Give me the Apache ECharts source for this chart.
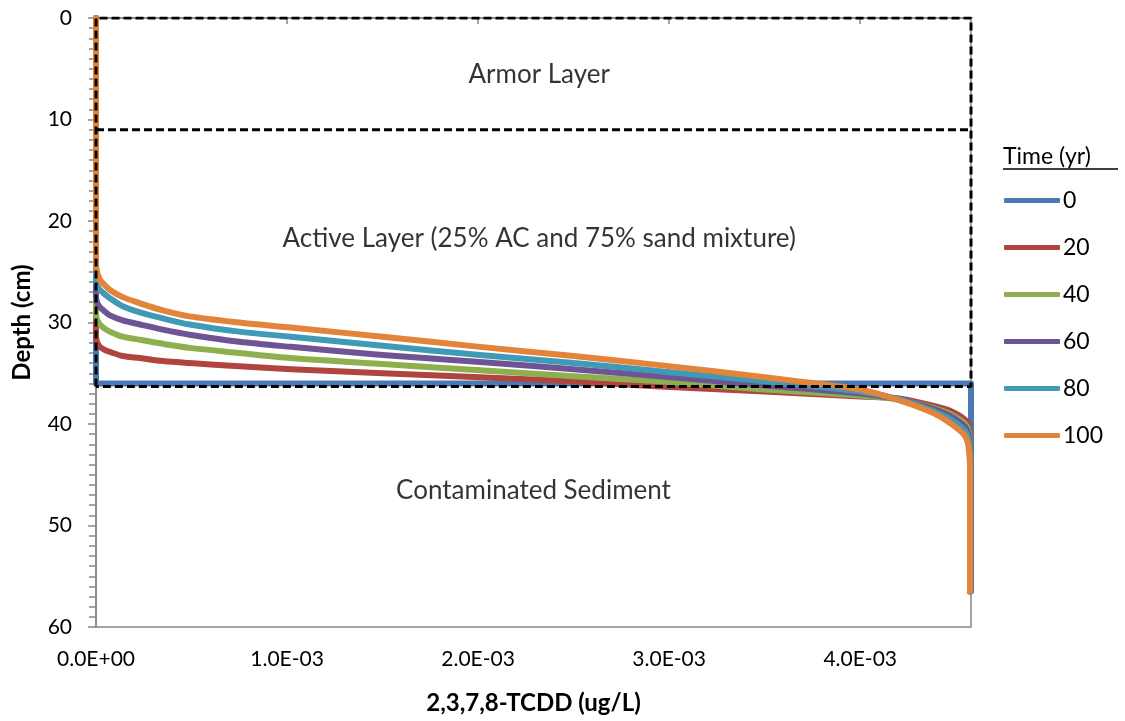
<!DOCTYPE html>
<html>
<head>
<meta charset="utf-8">
<script src="https://cdn.jsdelivr.net/npm/echarts@6/dist/echarts.min.js"></script>
<style>html,body{margin:0;padding:0;background:#fff}#c{width:1125px;height:721px}</style>
</head>
<body>
<div id="c"></div>
<script>
// ---- data (x values in units of 1e-3 ug/L) ----
const seriesNames = ['0', '20', '40', '60', '80', '100'];
const xCurve = [0, 0, 0.003, 0.01, 0.021, 0.045, 0.073, 0.14, 0.23, 0.35, 0.49, 0.75, 1.02, 1.5, 2.01, 2.5, 2.95, 3.5, 4.0, 4.21, 4.38, 4.47, 4.55, 4.57, 4.575, 4.575];
const depth20  = [0, 31.3, 31.8, 32.1, 32.4, 32.7, 32.9, 33.3, 33.5, 33.8, 34.0, 34.3, 34.6, 35.0, 35.4, 35.8, 36.3, 36.8, 37.3, 37.5, 38.2, 38.7, 39.6, 40.4, 43.0, 56.5];
const depth40  = [0, 29.0, 29.6, 29.9, 30.2, 30.6, 30.9, 31.4, 31.7, 32.1, 32.5, 33.0, 33.5, 34.1, 34.7, 35.3, 35.8, 36.6, 37.2, 37.6, 38.4, 39.0, 40.0, 41.0, 43.5, 56.5];
const depth60  = [0, 27.3, 27.9, 28.2, 28.5, 28.9, 29.3, 29.8, 30.2, 30.7, 31.2, 31.9, 32.4, 33.2, 33.9, 34.6, 35.3, 36.2, 37.0, 37.6, 38.5, 39.2, 40.3, 41.4, 44.0, 56.5];
const depth80  = [0, 25.5, 26.2, 26.5, 26.8, 27.2, 27.6, 28.4, 29.0, 29.6, 30.2, 30.9, 31.4, 32.3, 33.2, 34.0, 34.8, 35.8, 36.8, 37.6, 38.7, 39.5, 40.7, 41.9, 44.5, 56.5];
const depth100 = [0, 24.0, 24.8, 25.3, 25.8, 26.3, 26.8, 27.5, 28.1, 28.8, 29.4, 30.0, 30.5, 31.4, 32.4, 33.3, 34.2, 35.4, 36.6, 37.7, 38.9, 39.9, 41.2, 42.6, 45.0, 56.5];
const xInitial = [0, 0, 4.58, 4.58];
const depthInitial = [0, 36.0, 36.0, 56.5];
const boxX = [0, 0, 4.58, 4.58, 0];
const boxDepth = [36.3, 0, 0, 36.3, 36.3];
const armorX = [0, 4.58];
const armorDepth = [11, 11];
const layerLabels = ['Armor Layer', 'Active Layer (25% AC and 75% sand mixture)', 'Contaminated Sediment'];
const layerLabelX = [2.32, 2.32, 2.29];
const layerLabelDepth = [5.6, 21.7, 46.6];
const xTicks = [0, 1, 2, 3, 4];
const xMax = 4.58;
const colors = ['#4A78B5', '#B0443F', '#8EAF4E', '#6E5494', '#3E9AB5', '#E2843A'];
const SCALE = 1e-3;

const pts = (xs, ds) => xs.map((x, i) => [x * SCALE, ds[i]]);
const curveDepths = [depth20, depth40, depth60, depth80, depth100];

const font = 'Lato, "Open Sans", sans-serif';
function fmtExp(v) {
  let s = Number(v).toExponential(1).toUpperCase();
  return s.replace(/E([+-])(\d)$/, 'E$10$2');
}

const series = [];
series.push({
  name: seriesNames[0], type: 'line', data: pts(xInitial, depthInitial), showSymbol: false, symbol: 'none',
  lineStyle: { width: 6, color: colors[0], cap: 'round', join: 'round' }, itemStyle: { color: colors[0] }, z: 2
});
curveDepths.forEach((d, i) => {
  series.push({
    name: seriesNames[i + 1], type: 'line', data: pts(xCurve, d), showSymbol: false, symbol: 'none', smooth: 0.3,
    lineStyle: { width: 6, color: colors[i + 1], cap: 'round', join: 'round' }, itemStyle: { color: colors[i + 1] }, z: 2
  });
});
series.push({
  name: 'box', type: 'line', data: pts(boxX, boxDepth), showSymbol: false, symbol: 'none',
  lineStyle: { width: 3, color: '#000', type: [8, 4] }, z: 3, silent: true
});
series.push({
  name: 'armor', type: 'line', data: pts(armorX, armorDepth), showSymbol: false, symbol: 'none',
  lineStyle: { width: 3, color: '#000', type: [8, 4] }, z: 3, silent: true
});
series.push({
  name: 'labels', type: 'scatter', symbolSize: 0, silent: true, z: 4,
  data: layerLabels.map((t, i) => ({ value: [layerLabelX[i] * SCALE, layerLabelDepth[i]], name: t })),
  label: { show: true, position: 'inside', formatter: p => p.name, color: '#000', fontSize: 26, fontFamily: font }
});

const chart = echarts.init(document.getElementById('c'));
chart.setOption({
  animation: false,
  backgroundColor: '#fff',
  grid: { left: 96, right: 154, top: 18, bottom: 94, show: true, borderColor: '#868686', borderWidth: 1.5, backgroundColor: 'transparent' },
  xAxis: {
    type: 'value', min: 0, max: xMax * SCALE, interval: SCALE,
    name: '2,3,7,8-TCDD (ug/L)', nameLocation: 'middle', nameGap: 64,
    nameTextStyle: { fontFamily: font, fontWeight: 'bold', fontSize: 24, color: '#000' },
    axisLine: { show: true, lineStyle: { color: '#868686', width: 1.5 } },
    axisTick: { show: true, length: 6, lineStyle: { color: '#868686', width: 1.5 }, customValues: xTicks.map(v => v * SCALE) },
    axisLabel: { fontFamily: font, fontSize: 21, color: '#000', margin: 22, formatter: fmtExp, customValues: xTicks.map(v => v * SCALE) },
    splitLine: { show: false }
  },
  yAxis: {
    type: 'value', inverse: true, min: 0, max: 60, interval: 10,
    name: 'Depth (cm)', nameLocation: 'middle', nameGap: 62, nameRotate: 90,
    nameTextStyle: { fontFamily: font, fontWeight: 'bold', fontSize: 24, color: '#000' },
    axisLine: { show: true, lineStyle: { color: '#868686', width: 1.5 } },
    axisTick: { show: true, length: 8, lineStyle: { color: '#868686', width: 1.5 } },
    minorTick: { show: true, splitNumber: 10, length: 7, lineStyle: { color: '#868686', width: 1.5 } },
    axisLabel: { fontFamily: font, fontSize: 21, color: '#000', margin: 24 },
    splitLine: { show: false }, minorSplitLine: { show: false }
  },
  legend: {
    orient: 'vertical', left: 1004, top: 189, padding: 0,
    data: seriesNames, icon: 'roundRect', itemWidth: 56, itemHeight: 5, itemGap: 24,
    textStyle: { fontFamily: font, fontSize: 23, color: '#000', lineHeight: 22, padding: [0, 0, 0, -2] },
    selectedMode: false
  },
  graphic: [
    { type: 'text', left: 1003, top: 145, style: { text: 'Time (yr)', font: '23px ' + font, fill: '#000' } },
    { type: 'line', shape: { x1: 1003, y1: 169, x2: 1118, y2: 169 }, style: { stroke: '#000', lineWidth: 1.5 } }
  ],
  series: series
});
</script>
</body>
</html>
